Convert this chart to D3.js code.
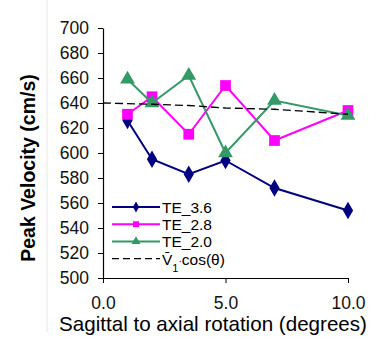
<!DOCTYPE html>
<html>
<head>
<meta charset="utf-8">
<script src="https://cdn.jsdelivr.net/npm/d3@7"></script>
<style>
  body { margin: 0; background: #fff; }
  svg { font-family: "Liberation Sans", Arial, sans-serif; }
</style>
</head>
<body>
<div id="chart"></div>
<script>
// rotation angles (degrees)
const angles = [1, 2, 3.5, 5, 7, 10];
const te36 = [626, 595, 583, 594, 572, 554];
const te28 = [631, 645, 615, 654, 610, 634];
const te20 = [659, 640, 662, 600, 642, 630];
// reference curve V1*cos(theta)
const refAngles = [0, 1, 2, 3.5, 5, 7, 10];
const refValues = [640, 639.5, 639, 638, 636, 635, 631];
const yTicks = [500, 520, 540, 560, 580, 600, 620, 640, 660, 680, 700];
const xTicks = [0, 5, 10];

const width = 386, height = 339;
const margin = { top: 28, right: 38, bottom: 61, left: 103 };

const svg = d3.select('#chart').append('svg')
  .attr('width', width)
  .attr('height', height);

// faint frame line on the left
svg.append('line')
  .attr('x1', 47).attr('x2', 47)
  .attr('y1', 0).attr('y2', 332)
  .attr('stroke', '#e6e6e6');

const gx = d3.scaleLinear().domain([0, 10]).range([margin.left, width - margin.right]);
const gy = d3.scaleLinear().domain([500, 700]).range([height - margin.bottom, margin.top]);

const xAxis = svg.append('g')
  .attr('transform', `translate(0,${height - margin.bottom})`)
  .call(d3.axisBottom(gx).tickValues(xTicks).tickFormat(d3.format('.1f')).tickSize(5).tickSizeOuter(0).tickPadding(14));

const yAxis = svg.append('g')
  .attr('transform', `translate(${margin.left},0)`)
  .call(d3.axisLeft(gy).tickValues(yTicks).tickSize(5).tickSizeOuter(0).tickPadding(9));

[xAxis, yAxis].forEach(a => {
  a.select('.domain').attr('stroke', '#000').attr('stroke-width', 1.2);
  a.selectAll('.tick line').attr('stroke', '#000');
  a.selectAll('.tick text').attr('font-size', 17.5).attr('fill', '#111')
    .attr('font-family', '"Liberation Sans", Arial, sans-serif');
});

svg.append('text')
  .attr('x', 213).attr('y', 331)
  .attr('text-anchor', 'middle')
  .attr('font-size', 20.6)
  .text('Sagittal to axial rotation (degrees)');

svg.append('text')
  .attr('transform', 'translate(35,168) rotate(-90)')
  .attr('text-anchor', 'middle')
  .attr('font-size', 19.5)
  .attr('font-weight', 'bold')
  .text('Peak Velocity (cm/s)');

const line = d3.line()
  .x(d => gx(d[0]))
  .y(d => gy(d[1]));

const series = [
  { name: 'TE_3.6', values: te36, color: '#000080', symbol: d3.symbolDiamond, size: 90 },
  { name: 'TE_2.8', values: te28, color: '#ff00ff', symbol: d3.symbolSquare, size: 115 },
  { name: 'TE_2.0', values: te20, color: '#339966', symbol: d3.symbolTriangle, size: 95 }
];

series.forEach(s => {
  const pts = angles.map((a, i) => [a, s.values[i]]);
  svg.append('path')
    .datum(pts)
    .attr('fill', 'none')
    .attr('stroke', s.color)
    .attr('stroke-width', 2)
    .attr('d', line);
  svg.selectAll(null)
    .data(pts)
    .join('path')
    .attr('transform', d => `translate(${gx(d[0])},${gy(d[1])})`)
    .attr('d', d3.symbol(s.symbol, s.size))
    .attr('fill', s.color);
});

svg.append('path')
  .datum(refAngles.map((a, i) => [a, refValues[i]]))
  .attr('fill', 'none')
  .attr('stroke', '#000')
  .attr('stroke-width', 1.3)
  .attr('stroke-dasharray', '8,4')
  .attr('d', line);

// legend
const legend = svg.append('g').attr('transform', 'translate(112,207)');
const rowH = 17.2;
series.forEach((s, i) => {
  const g = legend.append('g').attr('transform', `translate(0,${i * rowH})`);
  g.append('line').attr('x1', 0).attr('x2', 48)
    .attr('stroke', s.color).attr('stroke-width', 2);
  g.append('path').attr('transform', 'translate(24,0)')
    .attr('d', d3.symbol(s.symbol, 35)).attr('fill', s.color);
  g.append('text').attr('x', 50).attr('y', 6)
    .attr('font-size', 15.5).text(s.name);
});
const gRef = legend.append('g').attr('transform', `translate(0,${3 * rowH})`);
gRef.append('line').attr('x1', 0).attr('x2', 48)
  .attr('stroke', '#000').attr('stroke-width', 1.2).attr('stroke-dasharray', '7,4');
const refText = gRef.append('text').attr('x', 50).attr('y', 6).attr('font-size', 15.5);
refText.append('tspan').text('V\u0304');
refText.append('tspan').attr('dy', 7).attr('font-size', 11).text('1');
refText.append('tspan').attr('dy', -7).attr('font-size', 10).text('\u00b7');
refText.append('tspan').text('cos(\u03b8)');
</script>
</body>
</html>
